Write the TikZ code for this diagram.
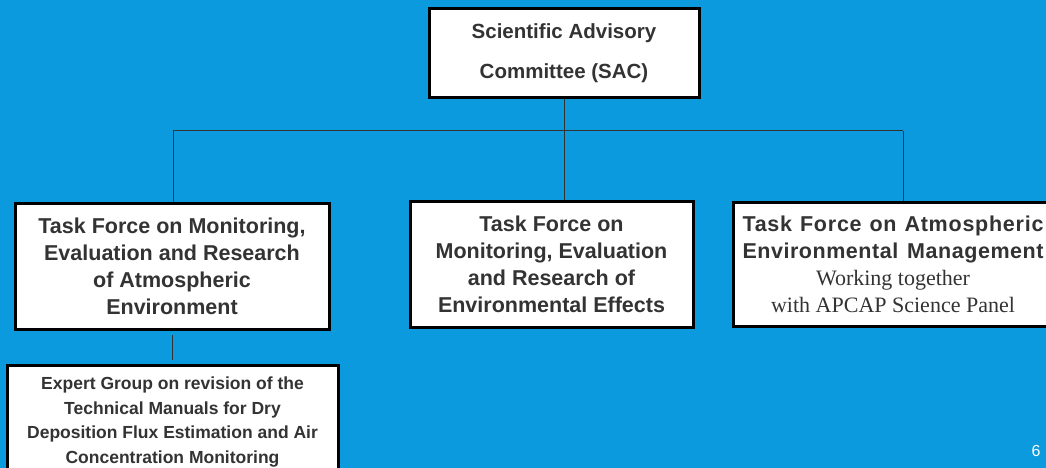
\documentclass[tikz,border=0pt]{standalone}
\usepackage{fontspec}
\setmainfont{Liberation Sans}
\newfontfamily\serifpanel{Liberation Serif}
\newfontfamily\spacedsans[LetterSpace=3.5]{Liberation Sans}
\newfontfamily\spacedsanslow[LetterSpace=2.5]{Liberation Sans}
\definecolor{slideblue}{RGB}{12,154,222}
\definecolor{inkgray}{RGB}{51,51,51}
\usetikzlibrary{positioning}

\begin{document}
\begin{tikzpicture}[x=1pt,y=-1pt,
    box/.style={draw=black,line width=3pt,fill=white,text=inkgray,align=center,inner sep=0pt},
    tfbox/.style={box,font=\fontsize{21.5}{27}\selectfont\bfseries},
    link/.style={draw=inkgray,line width=1pt}]
    \fill[slideblue] (0,0) rectangle (1046,468);
    \useasboundingbox (0,0) rectangle (1046,468);

    \node[box,minimum width=270,minimum height=89,font=\fontsize{20.5}{40}\selectfont\bfseries]
        (sac) at (564,53.5) {Scientific Advisory\\Committee (SAC)};

    \node[tfbox,minimum width=314,minimum height=126] (tfa) at (172,266)
        {Task Force on Monitoring,\\Evaluation and Research\\of Atmospheric\\Environment};
    \node[tfbox,minimum width=283,minimum height=126] (tfe) at (551.5,264)
        {Task Force on\\Monitoring, Evaluation\\and Research of\\Environmental Effects};
    \node[tfbox,minimum width=320,minimum height=124] (tfm) at (893,264)
        {{\spacedsans\bfseries\makebox[301pt][s]{Task Force on Atmospheric}}\\
         {\spacedsanslow\bfseries\makebox[301pt][s]{Environmental Management}}\\
         {\serifpanel\mdseries\fontsize{22}{27}\selectfont Working together}\\
         {\serifpanel\mdseries\fontsize{22}{27}\selectfont with APCAP Science Panel}};

    \node[box,minimum width=331,minimum height=114,
          font=\fontsize{17.5}{24.5}\selectfont\bfseries] (eg) at (172.5,422)
        {Expert Group on revision of the\\Technical Manuals for Dry\\Deposition Flux Estimation and Air\\Concentration Monitoring};

    % tree lines
    \coordinate (busL) at (173,131);
    \coordinate (busR) at (903,131);
    \draw[link] (busL) -- (busR);
    \draw[link] (sac.south) -- (sac.south |- busL);
    \draw[link] (busL) -- (busL |- tfa.north);
    \draw[link] (sac.south |- busL) -- (sac.south |- tfe.north);
    \draw[link] (busR) -- (busR |- tfm.north);
    \draw[link,shorten <=4pt,shorten >=4pt] (tfa.south) -- (tfa.south |- eg.north);

    \node[text=white,font=\fontsize{16}{18}\selectfont] (page) at (1036,451) {6};
\end{tikzpicture}
\end{document}
